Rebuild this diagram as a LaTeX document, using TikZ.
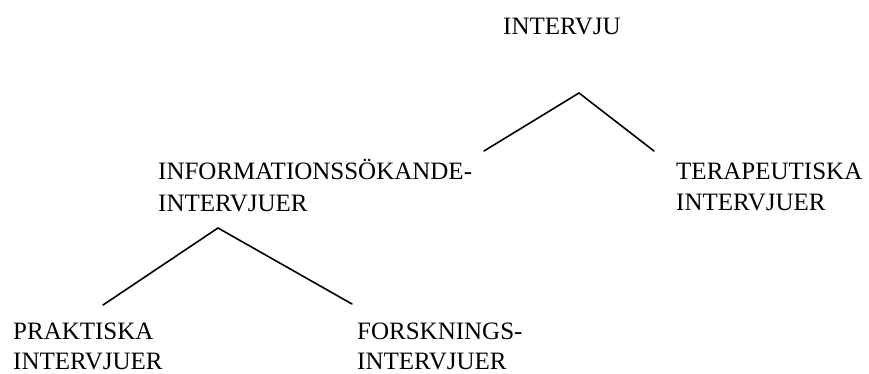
\documentclass[tikz,border=0pt]{standalone}
\usepackage{fontspec}
\setmainfont{Liberation Serif}
\begin{document}
\begin{tikzpicture}[x=1pt,y=-1pt,
  lbl/.style={anchor=base west,inner sep=0pt,font=\fontsize{25}{31}\selectfont},
  edge/.style={line width=1.6pt,line cap=round,line join=miter}]
\useasboundingbox (0,0) rectangle (869,374);
\node[lbl] (root) at (503,35) {INTERVJU};
\node[lbl] (info) at (158,179) {INFORMATIONSSÖKANDE-};
\node[lbl] (info2) at (158,211) {INTERVJUER};
\node[lbl] (tera) at (676,179) {TERAPEUTISKA};
\node[lbl] (tera2) at (676,210) {INTERVJUER};
\node[lbl] (prak) at (13,339) {PRAKTISKA};
\node[lbl] (prak2) at (13,369) {INTERVJUER};
\node[lbl] (fors) at (357,339) {FORSKNINGS-};
\node[lbl] (fors2) at (357,369) {INTERVJUER};
\coordinate (apexA) at (579,93);
\coordinate (endInfo) at (484,151);
\coordinate (endTera) at (654,151);
\coordinate (apexB) at (218,228);
\coordinate (endPrak) at (103,305);
\coordinate (endFors) at (352,304);
\draw[edge] (endInfo) -- (apexA) -- (endTera);
\draw[edge] (endPrak) -- (apexB) -- (endFors);
\end{tikzpicture}
\end{document}
